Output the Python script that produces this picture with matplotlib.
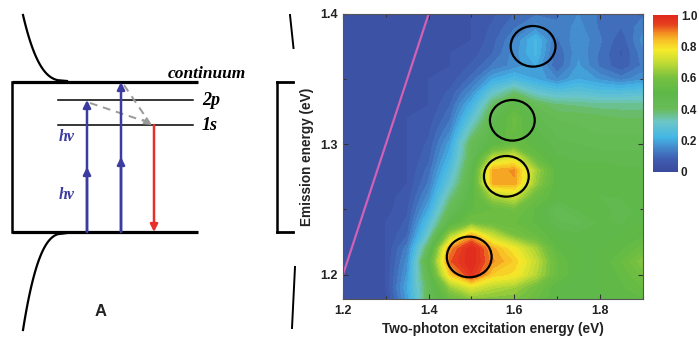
import numpy as np
import matplotlib
matplotlib.use("Agg")
import matplotlib.pyplot as plt
from matplotlib.colors import LinearSegmentedColormap, Normalize
from matplotlib.cm import ScalarMappable
from matplotlib.patches import Ellipse
from matplotlib.ticker import MultipleLocator

# ---------------- data ----------------
x_exc = [1.20, 1.25, 1.30, 1.35, 1.40, 1.45, 1.50, 1.55, 1.60, 1.65, 1.70, 1.75, 1.80, 1.85, 1.90]
y_em = [1.40, 1.39, 1.38, 1.37, 1.36, 1.35, 1.34, 1.33, 1.32, 1.31, 1.30, 1.29,
        1.28, 1.27, 1.26, 1.25, 1.24, 1.23, 1.22, 1.21, 1.20, 1.19, 1.18]
intensity = [
    [0.03, 0.03, 0.03, 0.03, 0.04, 0.04, 0.05, 0.07, 0.10, 0.12, 0.12, 0.15, 0.12, 0.11, 0.12],
    [0.03, 0.03, 0.03, 0.03, 0.04, 0.04, 0.05, 0.08, 0.12, 0.16, 0.13, 0.16, 0.12, 0.10, 0.14],
    [0.03, 0.03, 0.03, 0.03, 0.04, 0.04, 0.05, 0.09, 0.15, 0.23, 0.12, 0.17, 0.13, 0.08, 0.16],
    [0.03, 0.03, 0.03, 0.03, 0.04, 0.05, 0.06, 0.10, 0.16, 0.23, 0.10, 0.17, 0.12, 0.07, 0.14],
    [0.03, 0.03, 0.03, 0.03, 0.04, 0.05, 0.08, 0.13, 0.16, 0.20, 0.10, 0.18, 0.12, 0.08, 0.13],
    [0.03, 0.03, 0.03, 0.04, 0.05, 0.06, 0.11, 0.20, 0.24, 0.20, 0.15, 0.20, 0.17, 0.14, 0.17],
    [0.03, 0.03, 0.04, 0.04, 0.05, 0.08, 0.16, 0.30, 0.38, 0.30, 0.27, 0.28, 0.26, 0.26, 0.27],
    [0.03, 0.03, 0.04, 0.04, 0.05, 0.10, 0.22, 0.40, 0.50, 0.42, 0.38, 0.37, 0.36, 0.36, 0.36],
    [0.03, 0.03, 0.04, 0.05, 0.06, 0.12, 0.28, 0.45, 0.56, 0.46, 0.42, 0.42, 0.41, 0.40, 0.40],
    [0.03, 0.03, 0.04, 0.05, 0.07, 0.15, 0.35, 0.48, 0.55, 0.48, 0.44, 0.43, 0.42, 0.42, 0.42],
    [0.03, 0.03, 0.04, 0.05, 0.08, 0.19, 0.42, 0.50, 0.55, 0.50, 0.46, 0.45, 0.44, 0.44, 0.44],
    [0.03, 0.03, 0.04, 0.05, 0.09, 0.22, 0.43, 0.68, 0.73, 0.55, 0.48, 0.46, 0.46, 0.46, 0.46],
    [0.03, 0.03, 0.04, 0.05, 0.11, 0.26, 0.46, 0.86, 0.88, 0.66, 0.50, 0.50, 0.50, 0.48, 0.48],
    [0.03, 0.03, 0.04, 0.05, 0.13, 0.30, 0.48, 0.86, 0.87, 0.64, 0.50, 0.50, 0.50, 0.50, 0.50],
    [0.03, 0.03, 0.04, 0.06, 0.16, 0.36, 0.50, 0.66, 0.71, 0.56, 0.50, 0.50, 0.47, 0.48, 0.50],
    [0.03, 0.03, 0.04, 0.07, 0.20, 0.42, 0.52, 0.55, 0.58, 0.52, 0.43, 0.48, 0.50, 0.45, 0.50],
    [0.03, 0.03, 0.05, 0.08, 0.26, 0.48, 0.58, 0.56, 0.55, 0.52, 0.45, 0.44, 0.48, 0.47, 0.50],
    [0.03, 0.03, 0.05, 0.10, 0.32, 0.66, 0.86, 0.70, 0.60, 0.55, 0.50, 0.48, 0.50, 0.50, 0.52],
    [0.03, 0.03, 0.05, 0.14, 0.42, 0.88, 1.00, 0.86, 0.77, 0.66, 0.52, 0.50, 0.50, 0.52, 0.56],
    [0.03, 0.03, 0.05, 0.16, 0.50, 0.92, 1.00, 0.88, 0.82, 0.70, 0.55, 0.50, 0.50, 0.55, 0.62],
    [0.03, 0.03, 0.05, 0.18, 0.46, 0.82, 0.97, 0.82, 0.79, 0.68, 0.55, 0.50, 0.50, 0.53, 0.58],
    [0.03, 0.03, 0.05, 0.20, 0.42, 0.64, 0.74, 0.68, 0.65, 0.58, 0.50, 0.50, 0.50, 0.52, 0.55],
    [0.03, 0.03, 0.04, 0.18, 0.42, 0.55, 0.60, 0.60, 0.60, 0.55, 0.50, 0.50, 0.50, 0.50, 0.52],
]
# circled features (center x, center y)
circle_x = [1.644, 1.5955, 1.5815, 1.4948]
circle_y = [1.3752, 1.3184, 1.2754, 1.2135]
diag_line = [1.2, 1.4]
cbar_ticks = [0, 0.2, 0.4, 0.6, 0.8, 1.0]
cbar_labels = ["0", "0.2", "0.4", "0.6", "0.8", "1.0"]
x_ticks = [1.2, 1.4, 1.6, 1.8]
y_ticks = [1.2, 1.3, 1.4]

# schematic energy levels (diagram units, downward = lower energy)
E_cont, E_2p, E_1s, E_val = 82, 100, 125, 232

# ---------------- figure ----------------
fig = plt.figure(figsize=(6.99, 3.47), dpi=100)
fig.patch.set_facecolor("white")

cmap = LinearSegmentedColormap.from_list("jetlike", [
    (0.00, "#3a4a9c"), (0.08, "#3f5db0"), (0.15, "#4486ca"), (0.22, "#44b6e6"),
    (0.32, "#6cc6c6"), (0.40, "#68bc5a"), (0.50, "#5db848"), (0.60, "#76c040"),
    (0.70, "#c4dc34"), (0.78, "#f6ea2a"), (0.84, "#f8c026"), (0.89, "#f28a22"),
    (0.94, "#e6401e"), (1.00, "#e0281e")])

# ---- schematic panel ----
ax0 = fig.add_axes([0, 0, 1, 1])
ax0.set_xlim(0, 699)
ax0.set_ylim(347, 0)
ax0.axis("off")
ax0.set_zorder(0)

k = "black"
ax0.plot([12, 198], [E_cont, E_cont], color=k, lw=2.3, solid_capstyle="butt")
ax0.plot([12, 198], [E_val, E_val], color=k, lw=2.3, solid_capstyle="butt")
ax0.plot([12, 12], [E_cont, E_val], color=k, lw=1.8)
ax0.plot([58, 193], [E_2p, E_2p], color=k, lw=1.1)
ax0.plot([58, 193], [E_1s, E_1s], color=k, lw=1.1)

yy = np.linspace(15, 81, 80)
ax0.plot(67 - 44 * ((81 - yy) / 66) ** 0.35, yy, color=k, lw=1.6)
yy2 = np.linspace(233, 330, 80)
ax0.plot(67 - 44 * ((yy2 - 233) / 97) ** 0.35, yy2, color=k, lw=1.6)

# partial right schematic
ax0.plot([277, 277], [E_cont, E_val], color=k, lw=1.8)
ax0.plot([277, 293], [E_cont, E_cont], color=k, lw=2.0)
ax0.plot([277, 293], [E_val, E_val], color=k, lw=2.0)
ax0.plot([290, 293.5], [15, 48], color=k, lw=1.4)
ax0.plot([295, 292], [267, 328], color=k, lw=1.4)

blue = "#3c3ca0"
def arrow(x0, y0, x1, y1, color, lw=1.8, ms=11):
    ax0.annotate("", xy=(x1, y1), xytext=(x0, y0),
                 arrowprops=dict(arrowstyle="-|>", color=color, lw=lw,
                                 mutation_scale=ms, shrinkA=0, shrinkB=0))

arrow(87, E_val, 87, E_2p, blue)
arrow(87, E_val, 87, 167, blue)
arrow(121, E_val, 121, E_cont, blue)
arrow(121, E_val, 121, 157, blue)
arrow(154, E_1s, 154, E_val, "#e8302a")

gray = "#9a9a9a"
ax0.plot([90, 144], [103, 121], color=gray, lw=1.4, ls=(0, (4, 3)))
ax0.plot([124, 145], [85, 116], color=gray, lw=1.4, ls=(0, (4, 3)))
arrow(143, 119.5, 152, 125, gray, lw=1.0, ms=12)

serif = ["Liberation Serif", "DejaVu Serif"]
ax0.text(168, 74, "continuum", family=serif, style="italic", weight="bold",
         fontsize=12.5, ha="left", va="center")
ax0.text(202, 100, "2p", family=serif, style="italic", weight="bold",
         fontsize=13, ha="left", va="center")
ax0.text(202, 125, "1s", family=serif, style="italic", weight="bold",
         fontsize=13, ha="left", va="center")
ax0.text(59, 137, "hν", family=serif, style="italic", weight="bold",
         fontsize=11.5, color=blue, ha="left", va="center")
ax0.text(59, 195, "hν", family=serif, style="italic", weight="bold",
         fontsize=11.5, color=blue, ha="left", va="center")
ax0.text(101, 312, "A", family=["Liberation Sans", "DejaVu Sans"], weight="bold",
         fontsize=12, ha="center", va="center", color="#222222")

# ---- heatmap ----
sans = ["Liberation Sans", "DejaVu Sans"]
ax = fig.add_axes([343 / 699, 1 - 299.3 / 347, (642.7 - 343) / 699, (299.3 - 14) / 347])
ax.set_zorder(2)
X = np.array(x_exc)
Y = np.array(y_em)[::-1]
Z = np.array(intensity)[::-1]
ax.contourf(X, Y, Z, levels=np.linspace(0, 1.0001, 41), cmap=cmap, vmin=0, vmax=1)
ax.set_xlim(1.2, 1.90)
ax.set_ylim(1.181, 1.40)

ax.plot(diag_line, diag_line, color="#d260b4", lw=1.6, solid_capstyle="round")
for cx, cy in zip(circle_x, circle_y):
    ax.add_patch(Ellipse((cx, cy), 0.1047, 0.0312, fill=False, ec="black", lw=1.6))

ax.set_xticks(x_ticks)
ax.set_yticks(y_ticks)
ax.xaxis.set_minor_locator(MultipleLocator(0.1))
ax.yaxis.set_minor_locator(MultipleLocator(0.05))
ax.tick_params(which="both", direction="in", top=True, right=True, colors="#333333",
               width=0.8)
ax.tick_params(which="major", length=3.5, labelsize=9, pad=4)
ax.tick_params(which="minor", length=2.5)
for lab in ax.get_xticklabels() + ax.get_yticklabels():
    lab.set_fontfamily(sans)
    lab.set_fontweight("bold")
    lab.set_color("#222222")
for s in ax.spines.values():
    s.set_color("#555555")
    s.set_linewidth(0.8)
ax.set_xlabel("Two-photon excitation energy (eV)", family=sans, weight="bold",
              fontsize=9.8, color="#222222", labelpad=4)
ax.set_ylabel("Emission energy (eV)", family=sans, weight="bold",
              fontsize=9.8, color="#222222", labelpad=4)

# ---- colorbar ----
cax = fig.add_axes([653 / 699, 1 - 172 / 347, 25 / 699, (172 - 15) / 347])
cb = fig.colorbar(ScalarMappable(norm=Normalize(0, 1), cmap=cmap), cax=cax)
cb.set_ticks(cbar_ticks)
cb.set_ticklabels(cbar_labels)
cb.outline.set_visible(False)
cax.tick_params(length=0, labelsize=8.5, pad=2)
for lab in cax.get_yticklabels():
    lab.set_fontfamily(sans)
    lab.set_fontweight("bold")
    lab.set_color("#222222")

fig.savefig("out.png", dpi=100, facecolor="white")
